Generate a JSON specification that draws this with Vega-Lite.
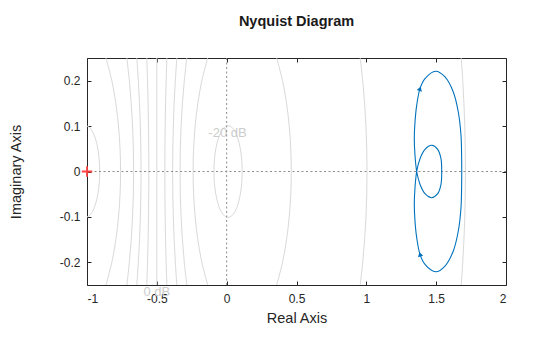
{
  "$schema": "https://vega.github.io/schema/vega-lite/v6.json",
  "width": 419,
  "height": 227,
  "autosize": {"type": "none"},
  "padding": {"left": 87, "top": 58, "right": 54, "bottom": 52},
  "title": {"text": "Nyquist Diagram", "font": "Liberation Sans", "fontSize": 14.5, "fontWeight": "bold", "color": "#1a1a1a", "anchor": "middle", "baseline": "alphabetic", "offset": 17.5},
  "config": {
    "view": {"stroke": "#262626", "strokeWidth": 1},
    "axis": {"labelFont": "Liberation Sans", "titleFont": "Liberation Sans", "labelFontSize": 12, "titleFontSize": 14.5, "titleFontWeight": "normal", "labelColor": "#262626", "titleColor": "#262626", "tickColor": "#262626", "grid": false, "domain": false, "tickSize": 4, "offset": -4}
  },
  "datasets": {
    "grid": [
      {"c": "m10", "o": 0, "x": -0.8642, "y": -0.25}, {"c": "m10", "o": 1, "x": -0.8222, "y": -0.2}, {"c": "m10", "o": 2, "x": -0.7934, "y": -0.15}, {"c": "m10", "o": 3, "x": -0.7743, "y": -0.1}, {"c": "m10", "o": 4, "x": -0.7633, "y": -0.05}, {"c": "m10", "o": 5, "x": -0.7597, "y": 0}, {"c": "m10", "o": 6, "x": -0.7633, "y": 0.05}, {"c": "m10", "o": 7, "x": -0.7743, "y": 0.1}, {"c": "m10", "o": 8, "x": -0.7934, "y": 0.15}, {"c": "m10", "o": 9, "x": -0.8222, "y": 0.2}, {"c": "m10", "o": 10, "x": -0.8642, "y": 0.25},
      {"c": "m6", "o": 0, "x": -0.7146, "y": -0.25}, {"c": "m6", "o": 1, "x": -0.6967, "y": -0.2}, {"c": "m6", "o": 2, "x": -0.6832, "y": -0.15}, {"c": "m6", "o": 3, "x": -0.6737, "y": -0.1}, {"c": "m6", "o": 4, "x": -0.668, "y": -0.05}, {"c": "m6", "o": 5, "x": -0.6661, "y": 0}, {"c": "m6", "o": 6, "x": -0.668, "y": 0.05}, {"c": "m6", "o": 7, "x": -0.6737, "y": 0.1}, {"c": "m6", "o": 8, "x": -0.6832, "y": 0.15}, {"c": "m6", "o": 9, "x": -0.6967, "y": 0.2}, {"c": "m6", "o": 10, "x": -0.7146, "y": 0.25},
      {"c": "m4", "o": 0, "x": -0.6434, "y": -0.25}, {"c": "m4", "o": 1, "x": -0.6324, "y": -0.2}, {"c": "m4", "o": 2, "x": -0.6239, "y": -0.15}, {"c": "m4", "o": 3, "x": -0.6179, "y": -0.1}, {"c": "m4", "o": 4, "x": -0.6143, "y": -0.05}, {"c": "m4", "o": 5, "x": -0.6131, "y": 0}, {"c": "m4", "o": 6, "x": -0.6143, "y": 0.05}, {"c": "m4", "o": 7, "x": -0.6179, "y": 0.1}, {"c": "m4", "o": 8, "x": -0.6239, "y": 0.15}, {"c": "m4", "o": 9, "x": -0.6324, "y": 0.2}, {"c": "m4", "o": 10, "x": -0.6434, "y": 0.25},
      {"c": "m2", "o": 0, "x": -0.5719, "y": -0.25}, {"c": "m2", "o": 1, "x": -0.5666, "y": -0.2}, {"c": "m2", "o": 2, "x": -0.5625, "y": -0.15}, {"c": "m2", "o": 3, "x": -0.5596, "y": -0.1}, {"c": "m2", "o": 4, "x": -0.5579, "y": -0.05}, {"c": "m2", "o": 5, "x": -0.5573, "y": 0}, {"c": "m2", "o": 6, "x": -0.5579, "y": 0.05}, {"c": "m2", "o": 7, "x": -0.5596, "y": 0.1}, {"c": "m2", "o": 8, "x": -0.5625, "y": 0.15}, {"c": "m2", "o": 9, "x": -0.5666, "y": 0.2}, {"c": "m2", "o": 10, "x": -0.5719, "y": 0.25},
      {"c": "m0", "o": 0, "x": -0.5, "y": -0.25}, {"c": "m0", "o": 1, "x": -0.5, "y": 0.25},
      {"c": "n2", "o": 0, "x": -0.4281, "y": -0.25}, {"c": "n2", "o": 1, "x": -0.4334, "y": -0.2}, {"c": "n2", "o": 2, "x": -0.4375, "y": -0.15}, {"c": "n2", "o": 3, "x": -0.4404, "y": -0.1}, {"c": "n2", "o": 4, "x": -0.4421, "y": -0.05}, {"c": "n2", "o": 5, "x": -0.4427, "y": 0}, {"c": "n2", "o": 6, "x": -0.4421, "y": 0.05}, {"c": "n2", "o": 7, "x": -0.4404, "y": 0.1}, {"c": "n2", "o": 8, "x": -0.4375, "y": 0.15}, {"c": "n2", "o": 9, "x": -0.4334, "y": 0.2}, {"c": "n2", "o": 10, "x": -0.4281, "y": 0.25},
      {"c": "n4L", "o": 0, "x": -0.3566, "y": -0.25}, {"c": "n4L", "o": 1, "x": -0.3676, "y": -0.2}, {"c": "n4L", "o": 2, "x": -0.3761, "y": -0.15}, {"c": "n4L", "o": 3, "x": -0.3821, "y": -0.1}, {"c": "n4L", "o": 4, "x": -0.3857, "y": -0.05}, {"c": "n4L", "o": 5, "x": -0.3869, "y": 0}, {"c": "n4L", "o": 6, "x": -0.3857, "y": 0.05}, {"c": "n4L", "o": 7, "x": -0.3821, "y": 0.1}, {"c": "n4L", "o": 8, "x": -0.3761, "y": 0.15}, {"c": "n4L", "o": 9, "x": -0.3676, "y": 0.2}, {"c": "n4L", "o": 10, "x": -0.3566, "y": 0.25},
      {"c": "n4R", "o": 0, "x": 1.6795, "y": -0.25}, {"c": "n4R", "o": 1, "x": 1.6904, "y": -0.2}, {"c": "n4R", "o": 2, "x": 1.6989, "y": -0.15}, {"c": "n4R", "o": 3, "x": 1.7049, "y": -0.1}, {"c": "n4R", "o": 4, "x": 1.7085, "y": -0.05}, {"c": "n4R", "o": 5, "x": 1.7097, "y": 0}, {"c": "n4R", "o": 6, "x": 1.7085, "y": 0.05}, {"c": "n4R", "o": 7, "x": 1.7049, "y": 0.1}, {"c": "n4R", "o": 8, "x": 1.6989, "y": 0.15}, {"c": "n4R", "o": 9, "x": 1.6904, "y": 0.2}, {"c": "n4R", "o": 10, "x": 1.6795, "y": 0.25},
      {"c": "n6L", "o": 0, "x": -0.2854, "y": -0.25}, {"c": "n6L", "o": 1, "x": -0.3033, "y": -0.2}, {"c": "n6L", "o": 2, "x": -0.3168, "y": -0.15}, {"c": "n6L", "o": 3, "x": -0.3264, "y": -0.1}, {"c": "n6L", "o": 4, "x": -0.332, "y": -0.05}, {"c": "n6L", "o": 5, "x": -0.3339, "y": 0}, {"c": "n6L", "o": 6, "x": -0.332, "y": 0.05}, {"c": "n6L", "o": 7, "x": -0.3264, "y": 0.1}, {"c": "n6L", "o": 8, "x": -0.3168, "y": 0.15}, {"c": "n6L", "o": 9, "x": -0.3033, "y": 0.2}, {"c": "n6L", "o": 10, "x": -0.2854, "y": 0.25},
      {"c": "n6R", "o": 0, "x": 0.9563, "y": -0.25}, {"c": "n6R", "o": 1, "x": 0.9742, "y": -0.2}, {"c": "n6R", "o": 2, "x": 0.9877, "y": -0.15}, {"c": "n6R", "o": 3, "x": 0.9973, "y": -0.1}, {"c": "n6R", "o": 4, "x": 1.0029, "y": -0.05}, {"c": "n6R", "o": 5, "x": 1.0048, "y": 0}, {"c": "n6R", "o": 6, "x": 1.0029, "y": 0.05}, {"c": "n6R", "o": 7, "x": 0.9973, "y": 0.1}, {"c": "n6R", "o": 8, "x": 0.9877, "y": 0.15}, {"c": "n6R", "o": 9, "x": 0.9742, "y": 0.2}, {"c": "n6R", "o": 10, "x": 0.9563, "y": 0.25},
      {"c": "n10L", "o": 0, "x": -0.1358, "y": -0.25}, {"c": "n10L", "o": 1, "x": -0.1778, "y": -0.2}, {"c": "n10L", "o": 2, "x": -0.2066, "y": -0.15}, {"c": "n10L", "o": 3, "x": -0.2257, "y": -0.1}, {"c": "n10L", "o": 4, "x": -0.2367, "y": -0.05}, {"c": "n10L", "o": 5, "x": -0.2403, "y": 0}, {"c": "n10L", "o": 6, "x": -0.2367, "y": 0.05}, {"c": "n10L", "o": 7, "x": -0.2257, "y": 0.1}, {"c": "n10L", "o": 8, "x": -0.2066, "y": 0.15}, {"c": "n10L", "o": 9, "x": -0.1778, "y": 0.2}, {"c": "n10L", "o": 10, "x": -0.1358, "y": 0.25},
      {"c": "n10R", "o": 0, "x": 0.358, "y": -0.25}, {"c": "n10R", "o": 1, "x": 0.4, "y": -0.2}, {"c": "n10R", "o": 2, "x": 0.4288, "y": -0.15}, {"c": "n10R", "o": 3, "x": 0.4479, "y": -0.1}, {"c": "n10R", "o": 4, "x": 0.4589, "y": -0.05}, {"c": "n10R", "o": 5, "x": 0.4625, "y": 0}, {"c": "n10R", "o": 6, "x": 0.4589, "y": 0.05}, {"c": "n10R", "o": 7, "x": 0.4479, "y": 0.1}, {"c": "n10R", "o": 8, "x": 0.4288, "y": 0.15}, {"c": "n10R", "o": 9, "x": 0.4, "y": 0.2}, {"c": "n10R", "o": 10, "x": 0.358, "y": 0.25},
      {"c": "n20", "o": 0, "x": 0.1111, "y": 0}, {"c": "n20", "o": 1, "x": 0.1077, "y": 0.0261}, {"c": "n20", "o": 2, "x": 0.0976, "y": 0.0505}, {"c": "n20", "o": 3, "x": 0.0816, "y": 0.0714}, {"c": "n20", "o": 4, "x": 0.0606, "y": 0.0875}, {"c": "n20", "o": 5, "x": 0.0362, "y": 0.0976}, {"c": "n20", "o": 6, "x": 0.0101, "y": 0.101}, {"c": "n20", "o": 7, "x": -0.016, "y": 0.0976}, {"c": "n20", "o": 8, "x": -0.0404, "y": 0.0875}, {"c": "n20", "o": 9, "x": -0.0613, "y": 0.0714}, {"c": "n20", "o": 10, "x": -0.0774, "y": 0.0505}, {"c": "n20", "o": 11, "x": -0.0875, "y": 0.0261}, {"c": "n20", "o": 12, "x": -0.0909, "y": 0}, {"c": "n20", "o": 13, "x": -0.0875, "y": -0.0261}, {"c": "n20", "o": 14, "x": -0.0774, "y": -0.0505}, {"c": "n20", "o": 15, "x": -0.0613, "y": -0.0714}, {"c": "n20", "o": 16, "x": -0.0404, "y": -0.0875}, {"c": "n20", "o": 17, "x": -0.016, "y": -0.0976}, {"c": "n20", "o": 18, "x": 0.0101, "y": -0.101}, {"c": "n20", "o": 19, "x": 0.0362, "y": -0.0976}, {"c": "n20", "o": 20, "x": 0.0606, "y": -0.0875}, {"c": "n20", "o": 21, "x": 0.0816, "y": -0.0714}, {"c": "n20", "o": 22, "x": 0.0976, "y": -0.0505}, {"c": "n20", "o": 23, "x": 0.1077, "y": -0.0261}, {"c": "n20", "o": 24, "x": 0.1111, "y": 0},
      {"c": "m20", "o": 0, "x": -1.0101, "y": -0.101}, {"c": "m20", "o": 1, "x": -0.984, "y": -0.0976}, {"c": "m20", "o": 2, "x": -0.9596, "y": -0.0875}, {"c": "m20", "o": 3, "x": -0.9387, "y": -0.0714}, {"c": "m20", "o": 4, "x": -0.9226, "y": -0.0505}, {"c": "m20", "o": 5, "x": -0.9125, "y": -0.0261}, {"c": "m20", "o": 6, "x": -0.9091, "y": 0}, {"c": "m20", "o": 7, "x": -0.9125, "y": 0.0261}, {"c": "m20", "o": 8, "x": -0.9226, "y": 0.0505}, {"c": "m20", "o": 9, "x": -0.9387, "y": 0.0714}, {"c": "m20", "o": 10, "x": -0.9596, "y": 0.0875}, {"c": "m20", "o": 11, "x": -0.984, "y": 0.0976}, {"c": "m20", "o": 12, "x": -1.0101, "y": 0.101}
    ],
    "nyq": [
      {"o": 1, "x": 1.5396, "y": 0}, {"o": 2, "x": 1.5345, "y": -0.0282}, {"o": 3, "x": 1.5109, "y": -0.0489}, {"o": 4, "x": 1.468, "y": -0.0577}, {"o": 5, "x": 1.42, "y": -0.0489}, {"o": 6, "x": 1.3842, "y": -0.0282}, {"o": 7, "x": 1.3606, "y": 0},
      {"o": 8, "x": 1.3484, "y": 0.0357}, {"o": 9, "x": 1.3434, "y": 0.0722}, {"o": 10, "x": 1.3484, "y": 0.109}, {"o": 11, "x": 1.3606, "y": 0.1458}, {"o": 12, "x": 1.3842, "y": 0.1824}, {"o": 13, "x": 1.42, "y": 0.2044}, {"o": 14, "x": 1.4966, "y": 0.2207}, {"o": 15, "x": 1.5632, "y": 0.2082}, {"o": 16, "x": 1.6226, "y": 0.1751}, {"o": 17, "x": 1.6584, "y": 0.1311}, {"o": 18, "x": 1.6777, "y": 0.0797}, {"o": 19, "x": 1.6827, "y": 0.0209}, {"o": 20, "x": 1.683, "y": 0},
      {"o": 21, "x": 1.6827, "y": -0.0209}, {"o": 22, "x": 1.6777, "y": -0.0797}, {"o": 23, "x": 1.6584, "y": -0.1311}, {"o": 24, "x": 1.6226, "y": -0.1751}, {"o": 25, "x": 1.5632, "y": -0.2082}, {"o": 26, "x": 1.4966, "y": -0.2207}, {"o": 27, "x": 1.42, "y": -0.2044}, {"o": 28, "x": 1.3842, "y": -0.1824}, {"o": 29, "x": 1.3606, "y": -0.1458}, {"o": 30, "x": 1.3484, "y": -0.109}, {"o": 31, "x": 1.3434, "y": -0.0722}, {"o": 32, "x": 1.3484, "y": -0.0357}, {"o": 33, "x": 1.3606, "y": 0},
      {"o": 34, "x": 1.3842, "y": 0.0282}, {"o": 35, "x": 1.42, "y": 0.0489}, {"o": 36, "x": 1.468, "y": 0.0577}, {"o": 37, "x": 1.5109, "y": 0.0489}, {"o": 38, "x": 1.5345, "y": 0.0282}, {"o": 39, "x": 1.5396, "y": 0}
    ]
  },
  "resolve": {"axis": {"x": "independent", "y": "independent"}},
  "layer": [
    {
      "data": {"name": "grid"},
      "mark": {"type": "line", "clip": true, "color": "#d9d9d9", "strokeWidth": 1, "interpolate": "catmull-rom"},
      "encoding": {
        "x": {"field": "x", "type": "quantitative", "scale": {"domain": [-1, 2], "nice": false, "zero": false}, "axis": {"orient": "bottom", "title": "Real Axis", "values": [-1, -0.5, 0, 0.5, 1, 1.5, 2], "labelExpr": "'' + datum.value", "labelPadding": 8, "titlePadding": 7}},
        "y": {"field": "y", "type": "quantitative", "scale": {"domain": [-0.25, 0.25], "nice": false, "zero": false}, "axis": {"orient": "left", "title": "Imaginary Axis", "values": [-0.2, -0.1, 0, 0.1, 0.2], "labelExpr": "'' + datum.value", "labelPadding": 7, "titlePadding": 36}},
        "detail": {"field": "c"},
        "order": {"field": "o", "type": "quantitative"}
      }
    },
    {
      "data": {"values": [{"x": 0.006, "y": 0.0848, "t": "-20 dB"}, {"x": -0.5, "y": -0.2665, "t": "0 dB"}]},
      "mark": {"type": "text", "font": "Liberation Sans", "fontSize": 13, "color": "#cccccc", "align": "center", "baseline": "middle"},
      "encoding": {
        "x": {"field": "x", "type": "quantitative", "axis": null},
        "y": {"field": "y", "type": "quantitative", "axis": null},
        "text": {"field": "t"}
      }
    },
    {
      "data": {"values": [{"v": 0}]},
      "mark": {"type": "rule", "color": "#8c8c8c", "strokeWidth": 1, "strokeDash": [2, 2.5]},
      "encoding": {"x": {"field": "v", "type": "quantitative", "axis": null}}
    },
    {
      "data": {"values": [{"v": 0}]},
      "mark": {"type": "rule", "color": "#8c8c8c", "strokeWidth": 1, "strokeDash": [2, 2.5]},
      "encoding": {"y": {"field": "v", "type": "quantitative", "axis": null}}
    },
    {
      "data": {"name": "nyq"},
      "mark": {"type": "line", "color": "#0072BD", "strokeWidth": 1.1, "interpolate": "catmull-rom", "clip": true},
      "encoding": {
        "x": {"field": "x", "type": "quantitative", "axis": null},
        "y": {"field": "y", "type": "quantitative", "axis": null},
        "order": {"field": "o", "type": "quantitative"}
      }
    },
    {
      "data": {"values": [{"x": 1.3842, "y": 0.1824}]},
      "mark": {"type": "point", "shape": "triangle-up", "filled": true, "color": "#0072BD", "size": 28, "angle": 17, "opacity": 1},
      "encoding": {
        "x": {"field": "x", "type": "quantitative", "axis": null},
        "y": {"field": "y", "type": "quantitative", "axis": null}
      }
    },
    {
      "data": {"values": [{"x": 1.3842, "y": -0.1824}]},
      "mark": {"type": "point", "shape": "triangle-up", "filled": true, "color": "#0072BD", "size": 28, "angle": 345, "opacity": 1},
      "encoding": {
        "x": {"field": "x", "type": "quantitative", "axis": null},
        "y": {"field": "y", "type": "quantitative", "axis": null}
      }
    },
    {
      "data": {"values": [{"x": -1, "y": 0}]},
      "mark": {"type": "point", "shape": "M-1,0L1,0M0,-1L0,1", "filled": false, "stroke": "#ff4040", "strokeWidth": 1.8, "size": 110, "opacity": 1, "clip": false},
      "encoding": {
        "x": {"field": "x", "type": "quantitative", "axis": {"orient": "top", "labels": false, "title": null, "values": [-1, -0.5, 0, 0.5, 1, 1.5, 2]}},
        "y": {"field": "y", "type": "quantitative", "axis": {"orient": "right", "labels": false, "title": null, "values": [-0.2, -0.1, 0, 0.1, 0.2]}}
      }
    }
  ]
}
